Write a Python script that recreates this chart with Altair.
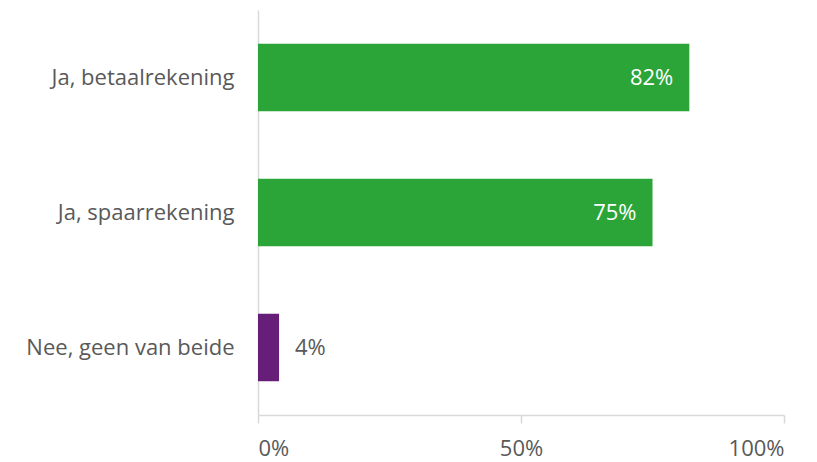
import altair as alt
import pandas as pd

categories = ["Ja, betaalrekening", "Ja, spaarrekening", "Nee, geen van beide"]
values = [0.82, 0.75, 0.04]
bar_colors = ["#2BA537", "#2BA537", "#661E79"]
label_inside = [True, True, False]

df = pd.DataFrame({"cat": categories, "val": values, "color": bar_colors,
                   "inside": label_inside})
df["lbl"] = [f"{round(v*100)}%" for v in values]

FONT = "Open Sans"
AX = "#D9D9D9"
TXT = "#595959"
FS = 22

base = alt.Chart(df)

bars = base.mark_bar().encode(
    x=alt.X("val:Q", scale=alt.Scale(domain=[0, 1]),
            axis=alt.Axis(values=[0, 0.5, 1], format=".0%", title=None, grid=False,
                          domainColor=AX, tickColor=AX, tickSize=8, domainWidth=1.5,
                          tickWidth=1.5, labelFont=FONT, labelFontSize=FS,
                          labelColor=TXT, labelPadding=15)),
    y=alt.Y("cat:N", sort=categories,
            scale=alt.Scale(paddingInner=0.5, paddingOuter=0.25),
            axis=alt.Axis(title=None, ticks=False, domainColor=AX, domainWidth=1.5,
                          labelFont=FONT, labelFontSize=FS, labelColor=TXT,
                          labelPadding=24, labelLimit=300)),
    color=alt.Color("color:N", scale=None),
)

txt_in = base.transform_filter("datum.inside").mark_text(
    align="right", dx=-16, font=FONT, fontSize=FS, color="white"
).encode(x="val:Q", y=alt.Y("cat:N", sort=categories), text="lbl:N")

txt_out = base.transform_filter("!datum.inside").mark_text(
    align="left", dx=16, font=FONT, fontSize=FS, color=TXT
).encode(x="val:Q", y=alt.Y("cat:N", sort=categories), text="lbl:N")

chart = (bars + txt_in + txt_out).properties(
    width=526, height=405,
    autosize=alt.AutoSizeParams(type="none"),
    padding={"left": 250, "top": 2, "right": 20, "bottom": 48},
).configure_view(stroke=None)

chart.save("out.html", embed_options={"renderer": "svg", "actions": False})
